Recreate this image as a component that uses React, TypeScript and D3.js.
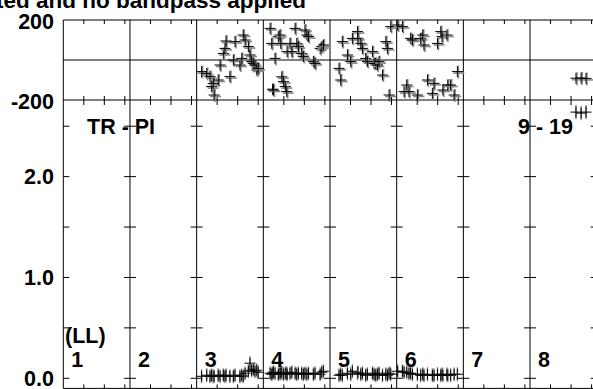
import React from 'react';
import * as d3 from 'd3';

const titleText = 'Calibrated and no bandpass applied';
const panelLabels = ['1', '2', '3', '4', '5', '6', '7', '8'];
const timeTicks = [1, 2, 3];
const ampTicks = [0, 0.5, 1, 1.5, 2, 2.5];
const ampLabels = [0, 1, 2];
const phaseLabels = [200, -200];

// panel 3
const p3Times = [0.24, 0.49, 0.65, 0.73, 0.81, 0.85, 1.05, 1.14, 1.3, 1.38, 1.43, 1.62, 1.79, 1.87, 2.11, 2.2, 2.27, 2.36, 2.52, 2.6, 2.68, 2.76, 2.84, 2.93, 3.0];
const p3Phase = [-58, -67, -83, -133, -117, -175, -100, -25, 33, 58, 95, -83, 0, 92, -25, 8, 125, 100, 67, 25, -8, -17, -25, -50, -42];
const p3Amp = [0.02, 0.03, 0.02, 0.03, 0.02, 0.02, 0.03, 0.02, 0.03, 0.02, 0.03, 0.02, 0.02, 0.03, 0.02, 0.03, 0.02, 0.05, 0.07, 0.15, 0.08, 0.09, 0.07, 0.08, 0.06];
// panel 4
const p4Times = [0.33, 0.41, 0.45, 0.49, 0.57, 0.73, 0.81, 0.85, 0.9, 0.98, 1.07, 1.14, 1.16, 1.3, 1.39, 1.55, 1.63, 1.71, 1.87, 1.95, 2.03, 2.12, 2.2, 2.44, 2.52, 2.77, 2.85, 2.93];
const p4Phase = [158, 83, -146, -150, 8, 117, 125, 83, -84, -108, -133, -158, 42, 83, 42, 158, 83, 67, 33, 17, 150, 125, 117, -8, -17, 58, 67, 75];
const p4Amp = [0.05, 0.04, 0.05, 0.06, 0.05, 0.04, 0.05, 0.05, 0.06, 0.04, 0.05, 0.05, 0.04, 0.05, 0.06, 0.05, 0.04, 0.05, 0.05, 0.04, 0.05, 0.04, 0.05, 0.04, 0.05, 0.04, 0.06, 0.07];
// panel 5
const p5Times = [0.44, 0.52, 0.6, 0.85, 1.01, 1.09, 1.34, 1.36, 1.5, 1.58, 1.74, 1.82, 2.07, 2.15, 2.23, 2.31, 2.39, 2.56, 2.72, 2.8, 2.88, 2.96];
const p5Phase = [-42, -100, 92, 25, -8, 108, 142, 108, 83, 58, 8, -8, 42, -17, -17, -25, -8, -75, 92, 58, -175, 167];
const p5Amp = [0.03, 0.04, 0.03, 0.05, 0.04, 0.07, 0.05, 0.06, 0.04, 0.05, 0.03, 0.04, 0.05, 0.04, 0.03, 0.04, 0.05, 0.03, 0.04, 0.03, 0.05, 0.04];
// panel 6
const p6Times = [0.05, 0.28, 0.36, 0.49, 0.6, 0.68, 0.77, 1.01, 1.17, 1.27, 1.33, 1.5, 1.74, 1.82, 1.99, 2.15, 2.21, 2.25, 2.45, 2.49, 2.63, 2.8, 2.96];
const p6Phase = [175, 167, -158, -125, -158, 108, 100, -175, 108, 125, 75, -100, -167, -117, 83, 142, 117, -150, 125, -125, -125, -175, -58];
const p6Amp = [0.07, 0.07, 0.06, 0.06, 0.05, 0.05, 0.04, 0.04, 0.03, 0.04, 0.03, 0.04, 0.03, 0.03, 0.04, 0.03, 0.04, 0.03, 0.04, 0.03, 0.03, 0.04, 0.04];
// panel 8
const p8Times = [2.24, 2.49, 2.73];
const p8Phase = [-91, -90, -92];
const p8Amp = [2.64, 2.63, 2.64];

const panelData = [
  { panel: 2, times: p3Times, phases: p3Phase, amps: p3Amp },
  { panel: 3, times: p4Times, phases: p4Phase, amps: p4Amp },
  { panel: 4, times: p5Times, phases: p5Phase, amps: p5Amp },
  { panel: 5, times: p6Times, phases: p6Phase, amps: p6Amp },
  { panel: 7, times: p8Times, phases: p8Phase, amps: p8Amp },
];

const W = 593;
const H = 389;
const FONT = '"Liberation Sans", Arial, Helvetica, sans-serif';

export default function App() {
  const panelX = d3.scaleLinear().domain([0, 8]).range([63.3, 596.7]);
  const timeX = d3.scaleLinear().domain([0, 3.25]).range([0, 66.67]);
  const yPhase = d3.scaleLinear().domain([-200, 200]).range([100, 20]);
  const yAmp = d3.scaleLinear().domain([0, 2.76]).range([378.3, 100]);
  const left = panelX(0);
  const right = W;
  const top = yPhase(200);
  const bottom = 388.4;

  const cross = (x: number, y: number, s = 5.5) => `M${x - s},${y}H${x + s}M${x},${y - s}V${y + s}`;

  const frame: React.ReactNode[] = [];
  [top, yPhase(0), yPhase(-200), bottom].forEach((y, i) =>
    frame.push(<line key={'h' + i} x1={left} x2={right} y1={y} y2={y} stroke="#000" strokeWidth={1} />)
  );
  d3.range(0, 9).forEach((i) => {
    const x = panelX(i);
    frame.push(<line key={'v' + i} x1={x} x2={x} y1={top} y2={bottom} stroke="#000" strokeWidth={1} />);
    ampTicks.forEach((a, j) => {
      const y = yAmp(a);
      frame.push(
        <line key={'at' + i + '-' + j} x1={i === 0 ? x : x - 6} x2={x + 6} y1={y} y2={y} stroke="#000" strokeWidth={1} />
      );
    });
    if (i < 8) {
      timeTicks.forEach((t, j) => {
        const tx = x + timeX(t);
        frame.push(<line key={'tt' + i + '-' + j} x1={tx} x2={tx} y1={top} y2={top + 4} stroke="#000" strokeWidth={1} />);
        frame.push(<line key={'tm' + i + '-' + j} x1={tx} x2={tx} y1={yPhase(-200) - 4} y2={yPhase(-200) + 5} stroke="#000" strokeWidth={1} />);
        frame.push(<line key={'tb' + i + '-' + j} x1={tx} x2={tx} y1={bottom - 4} y2={bottom} stroke="#000" strokeWidth={1} />);
      });
    }
  });

  const marks: React.ReactNode[] = [];
  panelData.forEach((pd) => {
    const x0 = panelX(pd.panel);
    pd.times.forEach((t, k) => {
      const x = x0 + timeX(t);
      const yp = yPhase(pd.phases[k]);
      const ya = yAmp(pd.amps[k]);
      marks.push(
        <line key={`pe${pd.panel}-${k}`} x1={x + 1} x2={x + 1} y1={yp - 6} y2={yp + 7} stroke="#888" strokeWidth={1.6} />,
        <path key={`pg${pd.panel}-${k}`} d={`M${x - 4},${yp + 1.5}H${x + 7}`} stroke="#888" strokeWidth={1.6} fill="none" />,
        <path key={`pc${pd.panel}-${k}`} d={cross(x, yp)} stroke="#000" strokeWidth={1} fill="none" />,
        <line key={`ae${pd.panel}-${k}`} x1={x} x2={x} y1={yAmp(pd.amps[k] + 0.07)} y2={yAmp(pd.amps[k] - 0.07)} stroke="#888" strokeWidth={1.3} />,
        <path key={`ac${pd.panel}-${k}`} d={cross(x, ya)} stroke="#000" strokeWidth={1} fill="none" />
      );
    });
  });

  const textStyle = { fontFamily: FONT, fontWeight: 700, fontSize: 21.5, fill: '#000' } as const;

  return (
    <svg width={W} height={H} style={{ position: 'absolute', left: 0, top: 0, display: 'block', background: '#fff' }}>
      <rect x={0} y={0} width={W} height={H} fill="#fff" />
      <text x={306} y={8} textAnchor="end" style={{ ...textStyle, fontSize: 22.5 }}>{titleText}</text>
      {frame}
      {marks}
      {phaseLabels.map((p) => (
        <text key={'pl' + p} x={54} y={yPhase(p) + 8.5} textAnchor="end" style={textStyle}>{p}</text>
      ))}
      {ampLabels.map((a) => (
        <text key={'al' + a} x={54} y={yAmp(a) + 7.5} textAnchor="end" style={textStyle}>{a.toFixed(1)}</text>
      ))}
      <text x={87} y={134} style={textStyle}>TR - PI</text>
      <text x={573} y={134} textAnchor="end" style={textStyle}>9 - 19</text>
      <text x={65} y={343} style={textStyle}>(LL)</text>
      {panelLabels.map((l, i) => (
        <text key={'lab' + i} x={panelX(i) + 8} y={366.5} style={textStyle}>{l}</text>
      ))}
    </svg>
  );
}
